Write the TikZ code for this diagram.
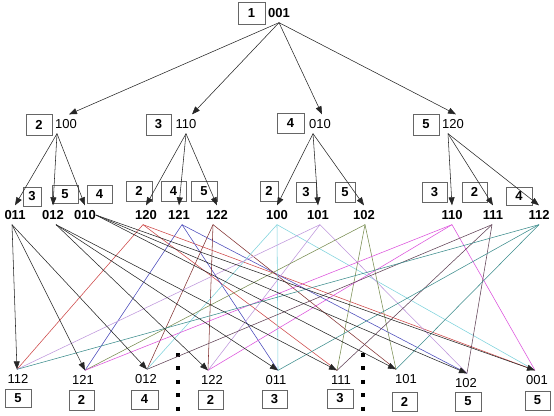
\documentclass[tikz,border=0pt]{standalone}
\usepackage{fontspec}
\setmainfont{Liberation Sans}
\usetikzlibrary{arrows.meta}
\definecolor{cred}{RGB}{205,70,70}
\definecolor{cblue}{RGB}{70,70,185}
\definecolor{cbrown}{RGB}{130,50,50}
\definecolor{ccyan}{RGB}{125,210,220}
\definecolor{cplum}{RGB}{190,150,220}
\definecolor{colive}{RGB}{120,140,80}
\definecolor{cmag}{RGB}{220,80,220}
\definecolor{cdark}{RGB}{95,65,85}
\definecolor{cteal}{RGB}{60,140,140}
\tikzset{
  lab/.style={inner sep=0pt, outer xsep=0pt, outer ysep=5pt, text height=9.3pt, text depth=0pt, font=\fontsize{13}{15}\selectfont},
  blab/.style={lab, font=\fontsize{13}{15}\selectfont\bfseries},
  nbox/.style={draw=black!60, line width=0.7pt, inner sep=0pt, font=\fontsize{13}{15}\selectfont\bfseries},
  e/.style={line width=0.55pt, draw=black!85},
  arr/.style={-{Triangle[length=8pt,width=6pt]}},
  ce/.style={line width=0.55pt},
  vdots/.style={line width=4pt, dash pattern=on 4pt off 9.4pt},
}
\begin{document}
\begin{tikzpicture}[x=1pt,y=-1pt]
\useasboundingbox (0,0) rectangle (554,415);
% root
\node[nbox, minimum width=27pt, minimum height=22pt] (k1) at (251.5,13) {1};
\node[blab] (root) at (279,13) {001};
% level 2
\node[nbox, minimum width=26pt, minimum height=21pt] (k2) at (39,124.5) {2};
\node[lab] (n100) at (66,124) {100};
\node[nbox, minimum width=25pt, minimum height=21pt] (k3) at (158.5,124.5) {3};
\node[lab] (n110) at (186,124) {110};
\node[nbox, minimum width=27pt, minimum height=20pt] (k4) at (290.5,123) {4};
\node[lab] (n010) at (320,124) {010};
\node[nbox, minimum width=26pt, minimum height=21pt] (k5) at (426,124.5) {5};
\node[lab] (n120) at (453,124) {120};
% level 3
\node[blab] (t011) at (15,215) {011};
\node[blab] (t012) at (53,215) {012};
\node[blab] (t010) at (85,215) {010};
\node[blab] (t120) at (146,215) {120};
\node[blab] (t121) at (179,215) {121};
\node[blab] (t122) at (217,215) {122};
\node[blab] (t100) at (277,215) {100};
\node[blab] (t101) at (318,215) {101};
\node[blab] (t102) at (364,215) {102};
\node[blab] (t110) at (452,215) {110};
\node[blab] (t111) at (493,215) {111};
\node[blab] (t112) at (539,215) {112};
\node[nbox, minimum width=18pt, minimum height=19pt] (k31) at (32,196.5) {3};
\node[nbox, minimum width=26pt, minimum height=18pt] (k32) at (65,194) {5};
\node[nbox, minimum width=25pt, minimum height=18pt] (k33) at (99.5,194) {4};
\node[nbox, minimum width=26pt, minimum height=20pt] (k34) at (139,191) {2};
\node[nbox, minimum width=25pt, minimum height=20pt] (k35) at (173.5,191) {4};
\node[nbox, minimum width=26pt, minimum height=20pt] (k36) at (204,191) {5};
\node[nbox, minimum width=18pt, minimum height=20pt] (k37) at (269,191) {2};
\node[nbox, minimum width=20pt, minimum height=20pt] (k38) at (306,192) {3};
\node[nbox, minimum width=20pt, minimum height=20pt] (k39) at (345,192) {5};
\node[nbox, minimum width=25pt, minimum height=20pt] (k310) at (434.5,192) {3};
\node[nbox, minimum width=25pt, minimum height=20pt] (k311) at (474.5,192) {2};
\node[nbox, minimum width=26pt, minimum height=18pt] (k312) at (519,196) {4};
% bottom
\node[lab] (b112) at (18,379) {112};
\node[lab] (b121) at (83,380) {121};
\node[lab] (b012) at (146,379) {012};
\node[lab] (b122) at (212,380) {122};
\node[lab] (b011) at (276,380) {011};
\node[lab] (b111) at (341,380) {111};
\node[lab] (b101) at (406,379) {101};
\node[lab] (b102) at (466,383) {102};
\node[lab] (b001) at (537,380) {001};
\node[nbox, minimum width=26pt, minimum height=18pt] (kb1) at (18,398) {5};
\node[nbox, minimum width=25pt, minimum height=20pt] (kb2) at (81.5,400) {2};
\node[nbox, minimum width=27pt, minimum height=19pt] (kb3) at (144.5,399.5) {4};
\node[nbox, minimum width=25pt, minimum height=19pt] (kb4) at (210.5,399.5) {2};
\node[nbox, minimum width=25pt, minimum height=18pt] (kb5) at (274.5,399) {3};
\node[nbox, minimum width=26pt, minimum height=19pt] (kb6) at (340,398.5) {3};
\node[nbox, minimum width=25pt, minimum height=19pt] (kb7) at (404.5,401.5) {2};
\node[nbox, minimum width=26pt, minimum height=19pt] (kb8) at (468,401.5) {5};
\node[nbox, minimum width=25pt, minimum height=19pt] (kb9) at (537.5,400.5) {5};
% dotted separators
\draw[vdots] (178,353) -- (178,411);
\draw[vdots] (363,353) -- (363,411);
% ports on bottom nodes
\coordinate (p112) at ([xshift=-1pt]b112.north);
\coordinate (p121) at ([xshift=2pt]b121.north);
\coordinate (p012) at ([xshift=1pt]b012.north);
\coordinate (p122) at ([xshift=-4pt]b122.north);
\coordinate (p011) at ([xshift=2pt]b011.north);
\coordinate (p111) at ([xshift=-4pt]b111.north);
\coordinate (p101) at ([xshift=-10pt]b101.north);
\coordinate (p102) at ([xshift=1pt]b102.north);
\coordinate (p001) at ([xshift=-2pt]b001.north);
% root edges
\draw[e,arr] (root.south) -- ([xshift=3pt]n100.north);
\draw[e,arr] (root.south) -- ([xshift=6pt]n110.north);
\draw[e,arr] (root.south) -- ([xshift=2pt]n010.north);
\draw[e,arr] (root.south) -- ([xshift=3pt]n120.north);
% level 2 -> level 3
\foreach \t in {t011,t012,t010} \draw[e,arr] ([xshift=-9pt]n100.south) -- (\t.north);
\foreach \t in {t120,t121,t122} \draw[e,arr] (n110.south) -- (\t.north);
\foreach \t in {t100,t101,t102} \draw[e,arr] ([xshift=-7pt]n010.south) -- (\t.north);
\foreach \t in {t110,t111,t112} \draw[e,arr] ([xshift=-5pt]n120.south) -- (\t.north);
% coloured level 3 -> bottom (drawn first)
\foreach \b in {p112,p111,p001} \draw[ce,cred] ([xshift=-3pt]t120.south) -- (\b);
\foreach \b in {p121,p011,p102} \draw[ce,cblue] ([xshift=3pt]t121.south) -- (\b);
\foreach \b in {p012,p122,p101} \draw[ce,cbrown] ([xshift=-4pt]t122.south) -- (\b);
\foreach \b in {p012,p011,p001} \draw[ce,ccyan] (t100.south) -- (\b);
\foreach \b in {p112,p122,p102} \draw[ce,cplum] ([xshift=2pt]t101.south) -- (\b);
\foreach \b in {p121,p111,p101} \draw[ce,colive] ([xshift=1pt]t102.south) -- (\b);
\foreach \b in {p121,p122,p001} \draw[ce,cmag] (t110.south) -- (\b);
\foreach \b in {p012,p111,p102} \draw[ce,cdark] ([xshift=-1pt]t111.south) -- (\b);
\foreach \b in {p112,p011,p101} \draw[ce,cteal] (t112.south) -- (\b);
% black level 3 -> bottom
\foreach \b in {p112,p121,p012} \draw[e,arr] ([xshift=-3pt]t011.south) -- (\b);
\foreach \b in {p122,p011,p111} \draw[e,arr] ([xshift=3pt]t012.south) -- (\b);
\foreach \b in {p101,p102,p001} \draw[e,arr] (t010.east) -- (\b);
\end{tikzpicture}
\end{document}
